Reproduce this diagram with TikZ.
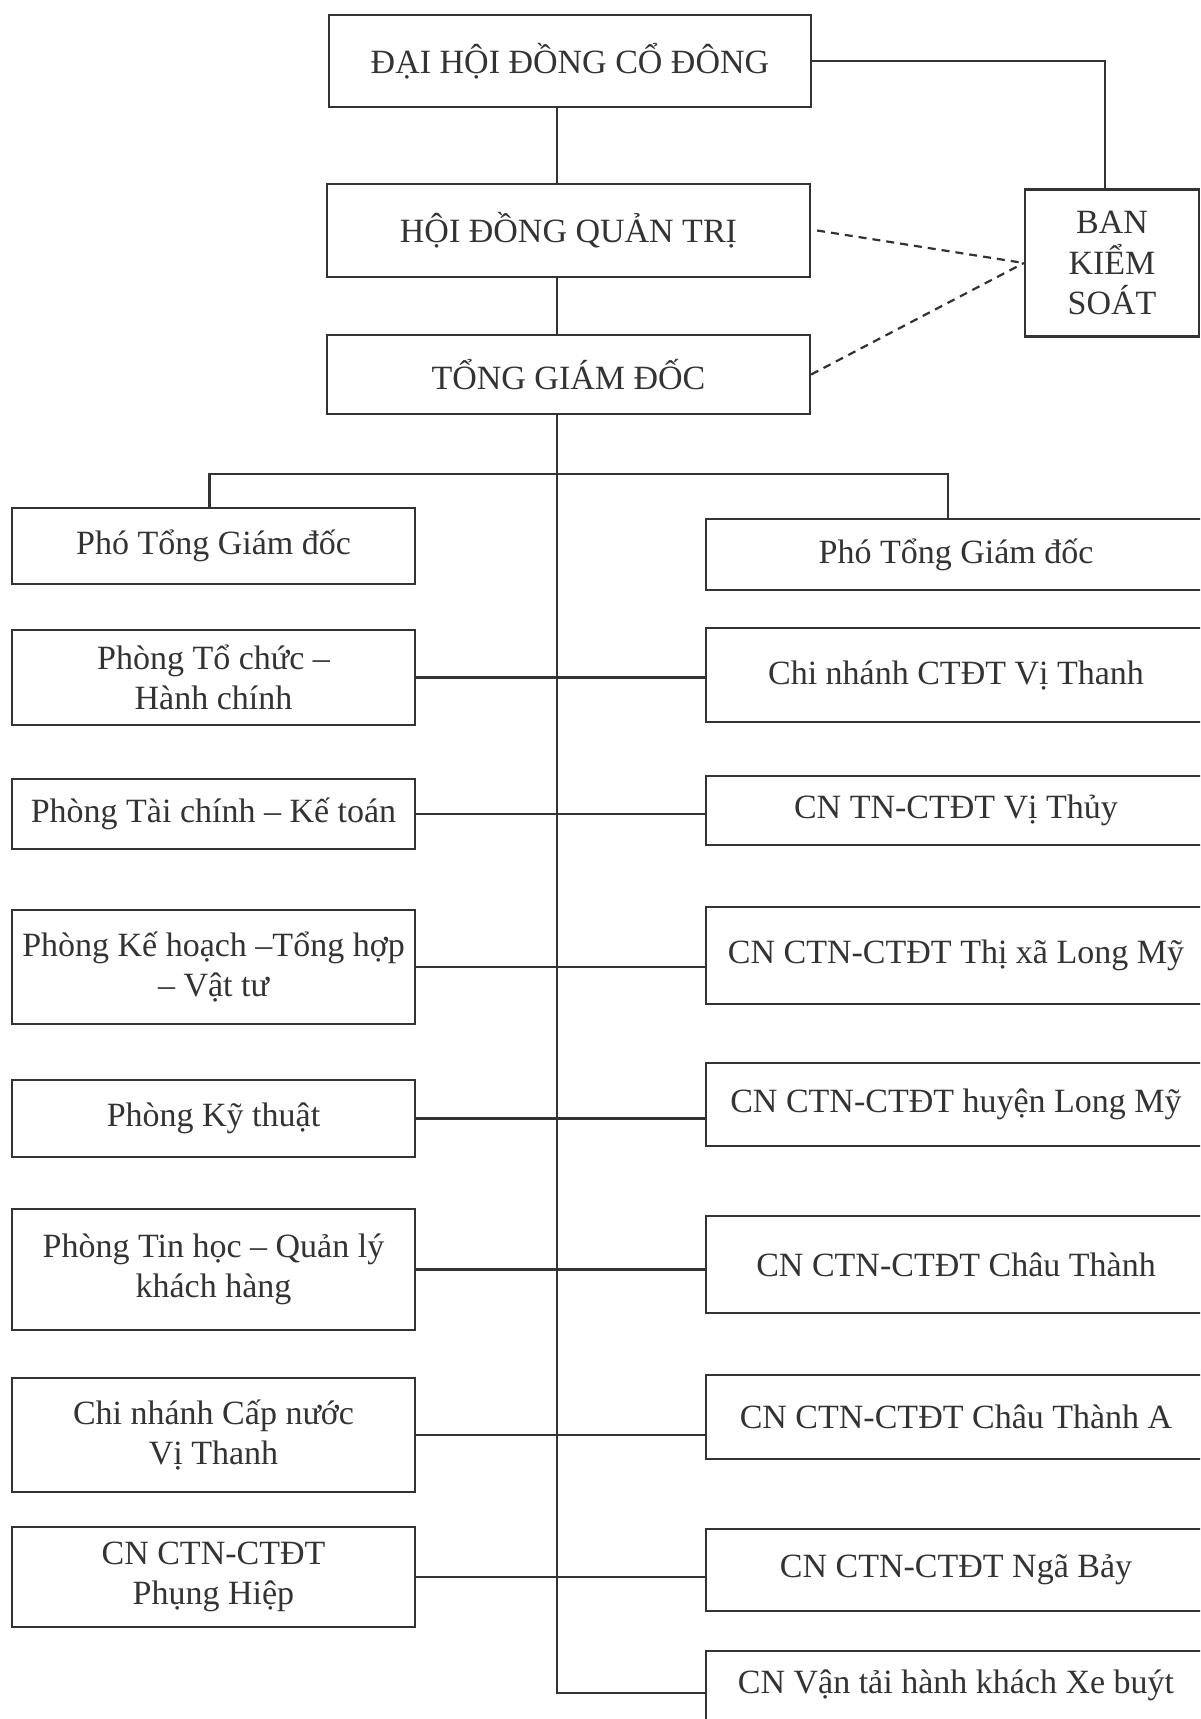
\documentclass[tikz,border=0pt]{standalone}
\usepackage{fontspec}
\setmainfont{Liberation Serif}
\usetikzlibrary{positioning,calc}
\colorlet{ink}{black!80}
\tikzset{
    unit/.style = {draw=ink, line width=1.1pt, text=ink, align=center, inner sep=0pt,
                   font=\fontsize{17}{20.3}\selectfont},
    link/.style = {draw=ink, line width=1.1pt},
    watch/.style = {link, dash pattern=on 4pt off 3pt}
}

\begin{document}
\begin{tikzpicture}[x=0.5pt, y=-0.5pt]
    \clip (0,0) rectangle (1200,1719);
    \fill[white] (0,0) rectangle (1200,1719);

    \node[unit, minimum width=241pt, minimum height=46pt] (dhdcd) at (570,61) {ĐẠI HỘI ĐỒNG CỔ ĐÔNG};
    \node[unit, minimum width=241.5pt, minimum height=46.5pt] (hdqt) at (568.5,230.5) {HỘI ĐỒNG QUẢN TRỊ};
    \node[unit, minimum width=241.5pt, minimum height=39.5pt] (tgd) at (568.5,374.5) {TỔNG GIÁM ĐỐC};
    \node[unit, minimum width=87pt, minimum height=73.5pt] (bks) at (1112,263) {BAN\\KIỂM\\SOÁT};

    \node[unit, minimum width=201.5pt, minimum height=38pt] (lptgd) at (213.5,546) {Phó Tổng Giám đốc};
    \node[unit, minimum width=250pt, minimum height=35.5pt] (rptgd) at (956,554.5) {Phó Tổng Giám đốc};

    \foreach \i/\y/\h/\lbl in {1/677.5/47.5/{Phòng Tổ chức –\\Hành chính},
                               2/814/35/{Phòng Tài chính – Kế toán},
                               3/967/57/{Phòng Kế hoạch –Tổng hợp\\– Vật tư},
                               4/1118.5/38.5/{Phòng Kỹ thuật},
                               5/1269.5/60.5/{Phòng Tin học – Quản lý\\khách hàng},
                               6/1435/57/{Chi nhánh Cấp nước\\Vị Thanh},
                               7/1577/50/{CN CTN-CTĐT\\Phụng Hiệp}}
        \node[unit, minimum width=201.5pt, minimum height=\h pt] (l-\i) at (213.5,\y) {\lbl};

    \foreach \i/\y/\h/\lbl in {1/675/47/{Chi nhánh CTĐT Vị Thanh},
                               2/810.5/34.5/{CN TN-CTĐT Vị Thủy},
                               3/955.5/48.5/{CN CTN-CTĐT Thị xã Long Mỹ},
                               4/1104.5/41.5/{CN CTN-CTĐT huyện Long Mỹ},
                               5/1264.5/48.5/{CN CTN-CTĐT Châu Thành},
                               6/1417/42/{CN CTN-CTĐT Châu Thành A},
                               7/1570/41/{CN CTN-CTĐT Ngã Bảy}}
        \node[unit, minimum width=250pt, minimum height=\h pt] (r-\i) at (956,\y) {\lbl};
    \node[unit, minimum width=250pt, text height=21pt, text depth=40pt, anchor=north] (r-8) at (956,1650) {CN Vận tải hành khách Xe buýt};

    \coordinate (spine) at (557,0);
    \coordinate (fork) at (557,474);

    \draw[link] (dhdcd.south -| spine) -- (hdqt.north -| spine);
    \draw[link] (hdqt.south -| spine) -- (tgd.north -| spine);
    \draw[link] (dhdcd.east) -| ([xshift=-3.5pt]bks.north);
    \draw[watch] ([xshift=3pt]hdqt.east) -- (bks.west);
    \draw[watch] (tgd.east) -- (bks.west);

    \draw[link] (tgd.south -| spine) |- (r-8.base west);
    \draw[link] ([xshift=-2pt]lptgd.north) |- (fork) -| ([xshift=-4pt]rptgd.north);
    \foreach \i in {1,...,7}
        \draw[link] (l-\i.east) -- (l-\i.east -| r-\i.west);
\end{tikzpicture}
\end{document}
